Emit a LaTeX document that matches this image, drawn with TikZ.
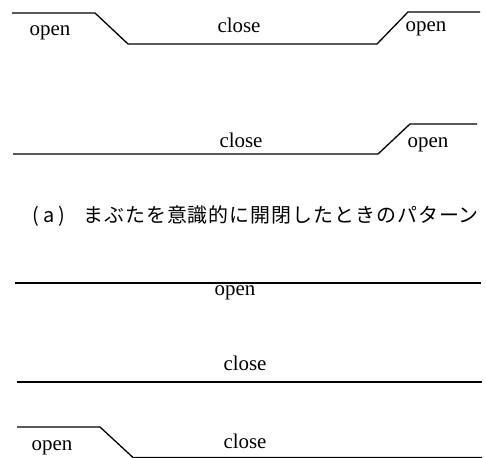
\documentclass[tikz,border=0pt]{standalone}
\usepackage{fontspec}
\setmainfont{Liberation Serif}
\newfontfamily\cjk{Noto Sans CJK JP}
\begin{document}
\begin{tikzpicture}[x=1bp,y=-1bp,
  sig/.style={line width=1.3bp, line join=round},
  lbl/.style={font=\fontsize{21}{21}\selectfont, inner sep=0pt, anchor=base},
  captxt/.style={font=\cjk\fontsize{20}{20}\selectfont, inner sep=0pt, anchor=west}]
\useasboundingbox (0,0) rectangle (486,458);
% row 1
\coordinate (a1) at (12,13);
\coordinate (a2) at (95,13);
\coordinate (a3) at (128,44);
\coordinate (a4) at (377,44);
\coordinate (a5) at (408,12);
\coordinate (a6) at (480,12);
\draw[sig] (a1) -- (a2) -- (a3) -- (a4) -- (a5) -- (a6);
\node[lbl] (o1) at (50,36) {open};
\node[lbl] (c1) at (239,33) {close};
\node[lbl] (o2) at (426,32) {open};
% row 2
\coordinate (b1) at (13,154);
\coordinate (b2) at (378,154);
\coordinate (b3) at (410,124);
\coordinate (b4) at (477,124);
\draw[sig] (b1) -- (b2) -- (b3) -- (b4);
\node[lbl] (c2) at (241,148) {close};
\node[lbl] (o3) at (428,148) {open};
% caption
\node[captxt] (t) at (32,216) {(\hspace{5bp}a\hspace{3.5bp})\hspace{18bp}{\addfontfeatures{LetterSpace=5}まぶたを意識的に開閉したときのパターン}};
% row 3
\coordinate (d1) at (15,283);
\coordinate (d2) at (481,283);
\draw[sig] (d1) -- (d2);
\node[lbl] (o4) at (235,295) {open};
% row 4
\coordinate (e1) at (17,382);
\coordinate (e2) at (482,382);
\draw[sig] (e1) -- (e2);
\node[lbl] (c3) at (245,370) {close};
% row 5
\coordinate (f1) at (17,427);
\coordinate (f2) at (100,427);
\coordinate (f3) at (133,457.5);
\coordinate (f4) at (482,457.5);
\draw[sig] (f1) -- (f2) -- (f3) -- (f4);
\node[lbl] (o5) at (52,450) {open};
\node[lbl] (c4) at (245,448) {close};
\end{tikzpicture}
\end{document}
